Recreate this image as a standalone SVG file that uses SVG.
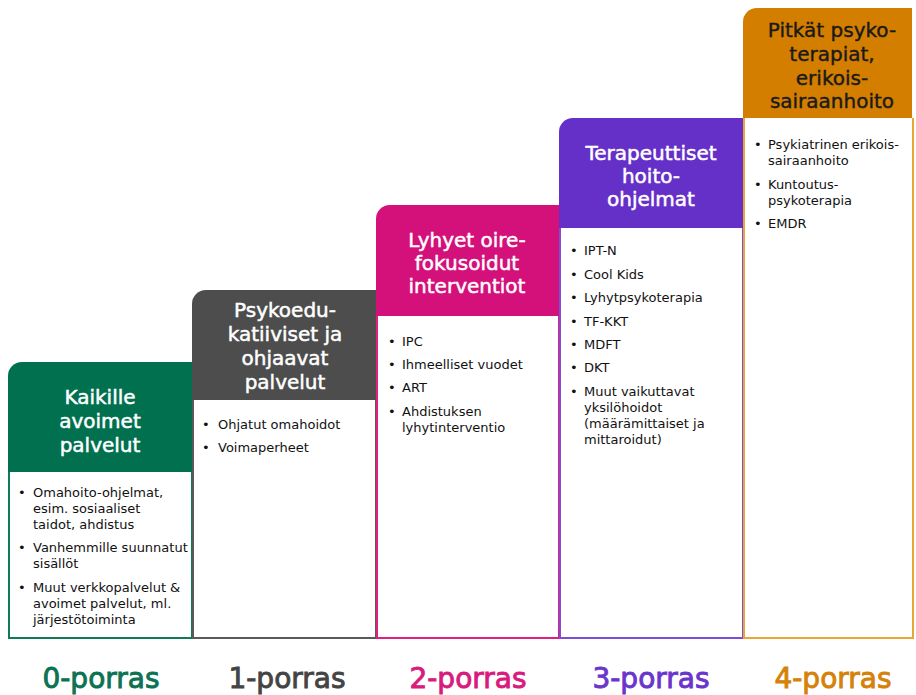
<svg xmlns="http://www.w3.org/2000/svg" width="916" height="695" viewBox="0 0 916 695">
<style>
text{font-family:"DejaVu Sans","Liberation Sans",sans-serif}
.h{font-size:20px;fill:#ffffff;stroke:#ffffff;stroke-width:0.5;text-anchor:middle}
.hd{font-size:20px;fill:#1a1a1a;stroke:#1a1a1a;stroke-width:0.4;text-anchor:middle}
.b{font-size:13px;fill:#111111}
.lab{font-size:28px;text-anchor:middle;stroke-width:0.9}
.ol{fill:#ffffff;stroke-width:2}
</style>
<rect width="916" height="695" fill="#ffffff"/>

<g id="step0">
<path class="ol" d="M9,472 V638 H192 V472" stroke="#0E7A56"/>
<path d="M8,376 A14,14 0 0 1 22,362 H192 V472 H8 Z" fill="#00704F"/>
<text class="h"><tspan x="100" y="404">Kaikille</tspan><tspan x="100" y="428">avoimet</tspan><tspan x="100" y="452">palvelut</tspan></text>
<text class="b"><tspan x="18" y="497">•</tspan><tspan x="33" y="497">Omahoito-ohjelmat,</tspan><tspan x="33" y="513">esim. sosiaaliset</tspan><tspan x="33" y="529">taidot, ahdistus</tspan>
<tspan x="18" y="552">•</tspan><tspan x="33" y="552">Vanhemmille suunnatut</tspan><tspan x="33" y="568">sisällöt</tspan>
<tspan x="18" y="592">•</tspan><tspan x="33" y="592">Muut verkkopalvelut &amp;</tspan><tspan x="33" y="608">avoimet palvelut, ml.</tspan><tspan x="33" y="624">järjestötoiminta</tspan></text>
</g>

<g id="step1">
<path class="ol" d="M193,400 V638 H376 V400" stroke="#5A5A5A"/>
<path d="M192,304 A14,14 0 0 1 206,290 H376 V400 H192 Z" fill="#4D4D4D"/>
<text class="h"><tspan x="285" y="317">Psykoedu-</tspan><tspan x="285" y="341">katiiviset ja</tspan><tspan x="285" y="365">ohjaavat</tspan><tspan x="285" y="389">palvelut</tspan></text>
<text class="b"><tspan x="202" y="429">•</tspan><tspan x="218" y="429">Ohjatut omahoidot</tspan>
<tspan x="202" y="452">•</tspan><tspan x="218" y="452">Voimaperheet</tspan></text>
</g>

<g id="step2">
<path class="ol" d="M377,316 V638 H559 V316" stroke="#E0207F"/>
<path d="M376,219 A14,14 0 0 1 390,205 H559 V316 H376 Z" fill="#D4107A"/>
<text class="h"><tspan x="467" y="247">Lyhyet oire-</tspan><tspan x="467" y="270">fokusoidut</tspan><tspan x="467" y="293">interventiot</tspan></text>
<text class="b"><tspan x="388" y="346">•</tspan><tspan x="402" y="346">IPC</tspan>
<tspan x="388" y="369">•</tspan><tspan x="402" y="369">Ihmeelliset vuodet</tspan>
<tspan x="388" y="392">•</tspan><tspan x="402" y="392">ART</tspan>
<tspan x="388" y="416">•</tspan><tspan x="402" y="416">Ahdistuksen</tspan><tspan x="402" y="432">lyhytinterventio</tspan></text>
</g>

<g id="step3">
<path class="ol" d="M560,228 V638 H743 V228" stroke="#7D4DD8"/>
<path d="M559,132 A14,14 0 0 1 573,118 H743 V228 H559 Z" fill="#6530C8"/>
<text class="h"><tspan x="651" y="160">Terapeuttiset</tspan><tspan x="651" y="183">hoito-</tspan><tspan x="651" y="206">ohjelmat</tspan></text>
<text class="b"><tspan x="570" y="255">•</tspan><tspan x="584" y="255">IPT-N</tspan>
<tspan x="570" y="279">•</tspan><tspan x="584" y="279">Cool Kids</tspan>
<tspan x="570" y="302">•</tspan><tspan x="584" y="302">Lyhytpsykoterapia</tspan>
<tspan x="570" y="326">•</tspan><tspan x="584" y="326">TF-KKT</tspan>
<tspan x="570" y="349">•</tspan><tspan x="584" y="349">MDFT</tspan>
<tspan x="570" y="372">•</tspan><tspan x="584" y="372">DKT</tspan>
<tspan x="570" y="396">•</tspan><tspan x="584" y="396">Muut vaikuttavat</tspan><tspan x="584" y="412">yksilöhoidot</tspan><tspan x="584" y="428">(määrämittaiset ja</tspan><tspan x="584" y="444">mittaroidut)</tspan></text>
</g>

<g id="step4">
<path class="ol" d="M744,118 V638 H913 V118" stroke="#E8A635"/>
<path d="M743,22 A14,14 0 0 1 757,8 H912 V118 H743 Z" fill="#D47E00"/>
<text class="hd"><tspan x="832" y="37">Pitkät psyko-</tspan><tspan x="832" y="61">terapiat,</tspan><tspan x="832" y="85">erikois-</tspan><tspan x="832" y="108">sairaanhoito</tspan></text>
<text class="b"><tspan x="754" y="149">•</tspan><tspan x="768" y="149">Psykiatrinen erikois-</tspan><tspan x="768" y="165">sairaanhoito</tspan>
<tspan x="754" y="189">•</tspan><tspan x="768" y="189">Kuntoutus-</tspan><tspan x="768" y="205">psykoterapia</tspan>
<tspan x="754" y="228">•</tspan><tspan x="768" y="228">EMDR</tspan></text>
</g>

<g id="labels">
<text class="lab" x="101" y="688" fill="#0B7352" stroke="#0B7352">0-porras</text>
<text class="lab" x="287" y="688" fill="#444444" stroke="#444444">1-porras</text>
<text class="lab" x="468" y="688" fill="#D81B7C" stroke="#D81B7C">2-porras</text>
<text class="lab" x="651" y="688" fill="#6A35CC" stroke="#6A35CC">3-porras</text>
<text class="lab" x="833" y="688" fill="#D4820A" stroke="#D4820A">4-porras</text>
</g>
</svg>
